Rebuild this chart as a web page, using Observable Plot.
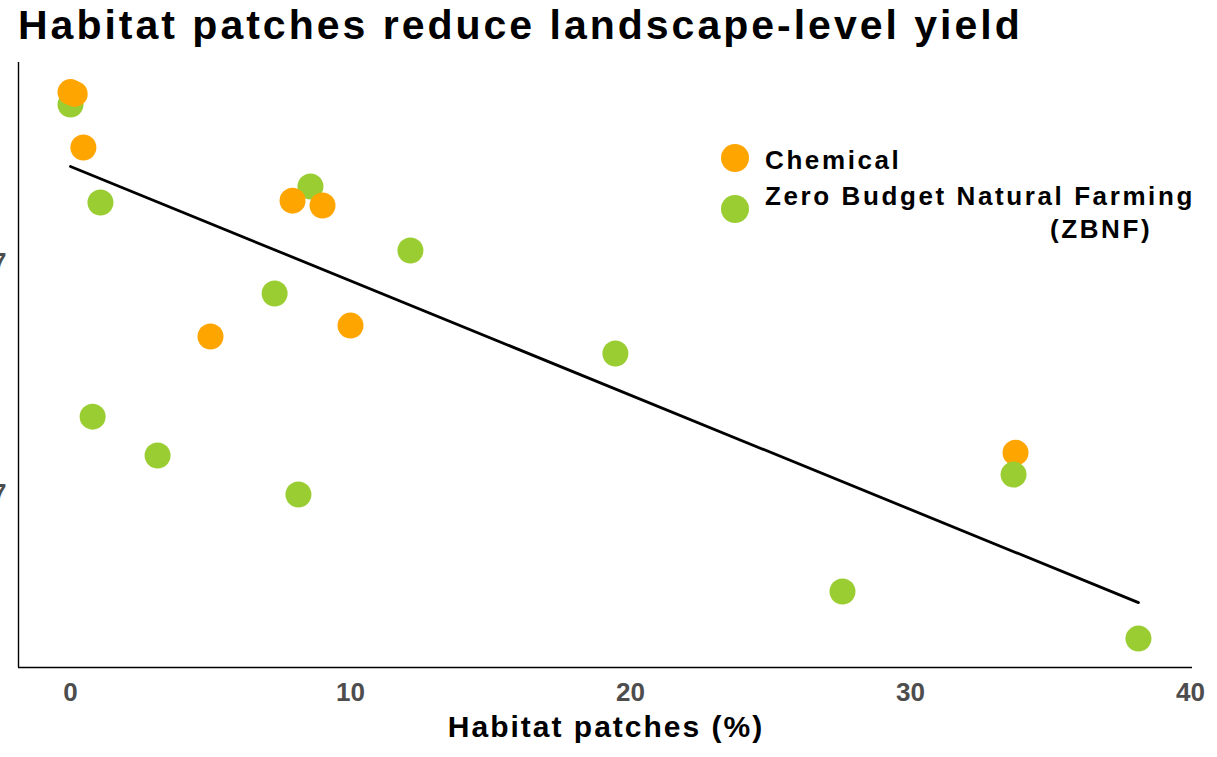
<!DOCTYPE html>
<html>
<head>
<meta charset="utf-8">
<script src="https://cdn.jsdelivr.net/npm/d3@7"></script>
<script src="https://cdn.jsdelivr.net/npm/@observablehq/plot@0.6"></script>
<style>
  html, body { margin: 0; padding: 0; background: #fff; }
  body { font-family: "Liberation Sans", Arial, sans-serif; }
  #wrap { position: relative; width: 1217px; height: 757px; overflow: hidden; background: #fff; }
  #title { position: absolute; left: 18px; top: 5px; font-size: 41px; line-height: 41px; font-weight: bold; letter-spacing: 3px; color: #000; white-space: nowrap; }
  #chart { position: absolute; left: 0; top: 50px; }
  #xtitle { position: absolute; left: 0; width: 1212px; top: 712px; text-align: center; font-size: 30px; line-height: 30px; font-weight: bold; letter-spacing: 2px; color: #000; white-space: nowrap; }
  .lg-key { position: absolute; width: 28px; height: 28px; border-radius: 50%; }
  .lg-text { position: absolute; font-size: 26px; line-height: 26px; font-weight: bold; letter-spacing: 2.6px; color: #000; white-space: nowrap; }
</style>
</head>
<body>
<div id="wrap">
  <div id="title"></div>
  <div id="chart"></div>
  <div id="xtitle"></div>
  <div id="legend"></div>
</div>
<script>
// ---- Text ----
const titleText = "Habitat patches reduce landscape-level yield";
const xAxisTitle = "Habitat patches (%)";
const seriesNames = ["Chemical", "Zero Budget Natural Farming", "(ZBNF)"];
const seriesColors = ["#FFA500", "#9ACD32"];

// ---- Ticks ----
const xTicks = [0, 10, 20, 30, 40];
const yTicks = [2, 3];            // yield, units of 1e+07 (labels clipped at the left edge)

// ---- Data: Chemical ----
const chemicalX = [0.0, 0.15, 0.46, 7.93, 9.0, 5.0, 10.0, 33.75];
const chemicalY = [3.738, 3.730, 3.498, 3.268, 3.247, 2.680, 2.727, 2.177];

// ---- Data: ZBNF ----
const zbnfX = [0.0, 1.07, 8.57, 12.14, 7.29, 19.46, 0.79, 3.11, 8.14, 27.57, 38.14, 33.68];
const zbnfY = [3.684, 3.260, 3.329, 3.052, 2.866, 2.606, 2.333, 2.165, 1.996, 1.576, 1.372, 2.082];

// ---- Fitted line (as drawn in the original) ----
const fitX = [0.0, 38.14];
const fitY = [3.416, 1.528];

// ---- Axis domains ----
const xDomain = [-1.857, 40.07];
const yDomain = [1.247, 3.866];

// Build tables (ZBNF drawn first, Chemical on top, last ZBNF point on top of its neighbour)
const zRows = zbnfX.map((x, i) => ({x, y: zbnfY[i], s: seriesNames[1]}));
const cRows = chemicalX.map((x, i) => ({x, y: chemicalY[i], s: seriesNames[0]}));
const rows = [...zRows.slice(0, -1), ...cRows, zRows[zRows.length - 1]];
const fit = fitX.map((x, i) => ({x, y: fitY[i]}));

document.getElementById("title").textContent = titleText;
document.getElementById("xtitle").textContent = xAxisTitle;

const plot = Plot.plot({
  width: 1217,
  height: 662,
  marginTop: 12,
  marginBottom: 45,
  marginLeft: 18,
  marginRight: 25,
  style: { fontFamily: "'Liberation Sans', Arial, sans-serif", background: "white", overflow: "hidden" },
  x: { domain: xDomain, label: null },
  y: { domain: yDomain, label: null },
  color: { domain: seriesNames.slice(0, 2), range: seriesColors },
  marks: [
    Plot.axisX({ ticks: xTicks, tickSize: 0, tickPadding: 15, fontSize: 26, fontWeight: "bold", fill: "#4D4D4D", label: null }),
    Plot.axisY({ ticks: yTicks, tickSize: 0, tickPadding: 12, fontSize: 26, fontWeight: "bold", fill: "#4D4D4D", label: null, tickFormat: d => d + "e+07" }),
    Plot.ruleX([xDomain[0]], { stroke: "#000", strokeWidth: 1.4 }),
    Plot.ruleY([yDomain[0]], { stroke: "#000", strokeWidth: 1.4 }),
    Plot.line(fit, { x: "x", y: "y", stroke: "#000", strokeWidth: 2.8 }),
    Plot.dot(rows, { x: "x", y: "y", r: 13, fill: "s", stroke: "none" })
  ]
});
document.getElementById("chart").appendChild(plot);

// Legend overlay
const legend = document.getElementById("legend");
const keyPos = [[721, 144], [721, 195]];
seriesColors.forEach((c, i) => {
  const k = document.createElement("div");
  k.className = "lg-key";
  k.style.left = keyPos[i][0] + "px";
  k.style.top = keyPos[i][1] + "px";
  k.style.background = c;
  legend.appendChild(k);
});
const textPos = [[765, 147], [765, 183], [1050, 216]];
seriesNames.forEach((t, i) => {
  const d = document.createElement("div");
  d.className = "lg-text";
  d.style.left = textPos[i][0] + "px";
  d.style.top = textPos[i][1] + "px";
  d.textContent = t;
  legend.appendChild(d);
});
</script>
</body>
</html>
